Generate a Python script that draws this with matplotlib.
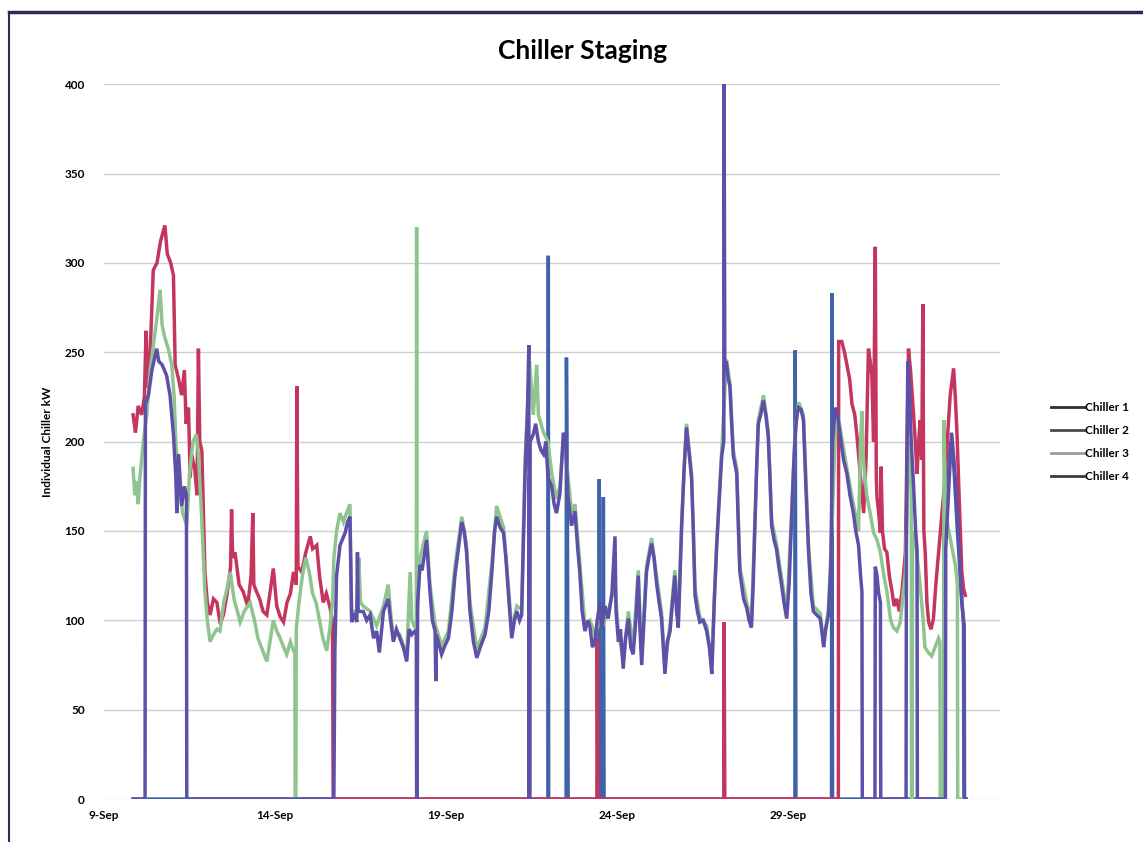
import pandas as pd
import matplotlib
matplotlib.use("Agg")
import matplotlib.pyplot as plt
from matplotlib.lines import Line2D

plt.rcParams['font.family'] = ['Lato', 'DejaVu Sans']

START = '2011-09-09'

# days after START, kW
c1_day = [0.85, 12.42, 12.43, 12.44, 12.98, 12.99, 13.00, 13.51, 13.52, 13.55, 13.57,
          14.47, 14.48, 14.50, 14.59, 14.60, 14.62, 20.20, 20.21, 20.23, 21.27, 21.28,
          21.30, 24.55, 24.56, 24.65, 24.75, 24.85, 24.95, 25.05, 25.13, 25.14, 25.20]
c1_kw = [0, 0, 180, 0, 0, 304, 0, 0, 247, 150, 0,
         0, 179, 0, 0, 169, 0, 0, 251, 0, 0, 283,
         0, 0, 150, 170, 200, 185, 150, 120, 97, 0, 0]

c2_day = [0.85, 0.92, 1.00, 1.10, 1.18, 1.23, 1.28, 1.35, 1.44, 1.55, 1.65, 1.78, 1.85,
          1.95, 2.03, 2.08, 2.18, 2.27, 2.35, 2.40, 2.47, 2.52, 2.56, 2.65, 2.72, 2.76,
          2.80, 2.86, 2.95, 3.02, 3.10, 3.20, 3.30, 3.40, 3.49, 3.60, 3.70, 3.73, 3.76,
          3.83, 3.95, 4.07, 4.20, 4.30, 4.35, 4.38, 4.46, 4.55, 4.65, 4.76, 4.85, 4.95,
          5.05, 5.15, 5.25, 5.35, 5.45, 5.54, 5.62, 5.64, 5.67, 5.78, 5.90, 6.03, 6.10,
          6.22, 6.30, 6.41, 6.50, 6.61, 6.68, 6.70, 14.41, 14.42, 14.44, 18.12, 18.13,
          18.15, 21.47, 21.48, 21.57, 21.65, 21.72, 21.80, 21.87, 21.95, 22.01, 22.11,
          22.21, 22.28, 22.35, 22.40, 22.45, 22.50, 22.55, 22.58, 22.60, 22.65, 22.70,
          22.72, 22.76, 22.82, 22.89, 22.96, 23.04, 23.10, 23.18, 23.25, 23.33, 23.43,
          23.48, 23.52, 23.58, 23.67, 23.72, 23.77, 23.82, 23.86, 23.91, 23.94, 23.97,
          24.01, 24.06, 24.11, 24.18, 24.25, 24.32, 24.40, 24.50, 24.60, 24.67, 24.74,
          24.80, 24.84, 24.89, 24.94, 25.00, 25.08, 25.13, 25.18]
c2_kw = [215, 205, 220, 215, 225, 262, 230, 250, 296, 300, 312, 321, 305,
         300, 293, 243, 235, 226, 240, 210, 219, 180, 193, 185, 170, 252,
         200, 195, 127, 110, 103, 112, 110, 98, 103, 115, 130, 162, 135,
         138, 120, 116, 108, 125, 160, 120, 116, 112, 105, 103, 115, 129,
         108, 102, 99, 110, 115, 127, 120, 231, 130, 127, 138, 147, 140,
         142, 125, 110, 115, 107, 100, 0, 0, 90, 0, 0, 99,
         0, 0, 256, 256, 250, 243, 235, 221, 215, 204, 182,
         160, 190, 252, 245, 237, 200, 309, 180, 169, 160, 149,
         186, 150, 140, 138, 125, 116, 108, 112, 105, 116, 138,
         200, 252, 240, 215, 200, 182, 200, 212, 190, 277, 150,
         138, 110, 99, 95, 101, 120, 138, 160, 182, 205, 226,
         235, 241, 225, 204, 170, 127, 118, 114]

c3_day = [0.85, 0.90, 0.95, 1.00, 1.05, 1.15, 1.25, 1.35, 1.45, 1.55, 1.64, 1.70, 1.78,
          1.88, 1.98, 2.05, 2.10, 2.20, 2.30, 2.42, 2.50, 2.60, 2.70, 2.76, 2.85, 2.95,
          3.02, 3.10, 3.20, 3.30, 3.39, 3.50, 3.60, 3.69, 3.80, 3.90, 3.98, 4.10, 4.27,
          4.40, 4.50, 4.60, 4.76, 4.85, 4.95, 5.05, 5.15, 5.25, 5.34, 5.45, 5.54, 5.58,
          5.59, 5.61, 5.62, 5.70, 5.80, 5.90, 6.00, 6.10, 6.20, 6.30, 6.40, 6.51, 6.60,
          6.68, 6.72, 6.80, 6.90, 7.00, 7.05, 7.19, 7.24, 7.39, 7.45, 7.50, 7.58, 7.78,
          7.97, 8.17, 8.31, 8.40, 8.46, 8.65, 8.85, 8.95, 9.00, 9.09, 9.13, 9.14, 9.15,
          9.24, 9.43, 9.53, 9.68, 9.87, 10.07, 10.26, 10.46, 10.60, 10.70, 10.90, 11.14,
          11.34, 11.48, 11.58, 11.68, 11.82, 11.92, 12.07, 12.21, 12.31, 12.44, 12.55,
          12.65, 12.70, 12.85, 12.98, 13.09, 13.23, 13.33, 13.43, 13.52, 13.67, 13.77,
          13.91, 14.06, 14.21, 14.35, 14.50, 14.60, 14.74, 14.94, 15.04, 15.18, 15.33,
          15.47, 15.62, 15.72, 15.86, 16.01, 16.16, 16.30, 16.40, 16.55, 16.69, 16.79,
          16.89, 17.03, 17.18, 17.28, 17.42, 17.62, 17.77, 17.91, 18.06, 18.20, 18.30,
          18.40, 18.50, 18.59, 18.79, 18.93, 19.03, 19.13, 19.28, 19.42, 19.52, 19.66,
          19.81, 19.96, 20.11, 20.21, 20.31, 20.45, 20.60, 20.74, 20.94, 21.04, 21.18,
          21.30, 21.40, 21.50, 21.72, 21.91, 22.06, 22.12, 22.16, 22.20, 22.30, 22.40,
          22.50, 22.60, 22.70, 22.80, 22.89, 23.00, 23.08, 23.18, 23.28, 23.43, 23.50,
          23.55, 23.60, 23.61, 23.63, 23.64, 23.75, 23.86, 23.95, 24.00, 24.10, 24.20,
          24.30, 24.40, 24.44, 24.45, 24.55, 24.56, 24.60, 24.70, 24.80, 24.90, 24.95,
          24.96, 25.20]
c3_kw = [185, 170, 178, 165, 180, 200, 215, 240, 255, 270, 285, 265, 258,
         252, 243, 225, 200, 175, 160, 153, 182, 200, 204, 193, 160, 116,
         100, 88, 92, 95, 94, 110, 118, 127, 112, 105, 99, 105, 110,
         100, 90, 85, 77, 88, 100, 94, 90, 85, 81, 88, 83, 83,
         0, 0, 95, 110, 125, 135, 127, 115, 110, 100, 90, 83, 95,
         110, 135, 150, 160, 155, 158, 165, 105, 105, 135, 110, 108, 105,
         97, 108, 120, 100, 92, 92, 80, 127, 100, 96, 96, 320, 100,
         135, 150, 120, 98, 86, 94, 130, 158, 142, 110, 84, 96,
         132, 164, 158, 152, 120, 95, 108, 106, 190, 245, 215,
         243, 215, 205, 200, 182, 168, 175, 200, 190, 160, 165,
         132, 98, 100, 92, 100, 98, 105, 120, 93, 78, 105,
         85, 128, 80, 130, 146, 124, 105, 75, 98, 128, 100,
         156, 210, 182, 118, 102, 97, 75, 143, 195, 246, 233,
         195, 185, 130, 110, 100, 156, 212, 226, 206, 156, 143,
         124, 104, 163, 207, 222, 215, 141, 108, 104, 88, 106,
         160, 215, 210, 185, 165, 150, 200, 217, 190, 170, 160,
         149, 145, 138, 125, 116, 100, 96, 94, 99, 127, 180,
         200, 190, 0, 0, 150, 140, 120, 100, 85, 82, 80,
         85, 90, 88, 0, 0, 212, 160, 150, 140, 130, 120,
         0, 0]

c4_day = [0.85, 1.20, 1.21, 1.30, 1.40, 1.54, 1.60, 1.70, 1.83, 1.93, 2.03, 2.10, 2.13,
          2.18, 2.27, 2.35, 2.41, 2.42, 6.72, 6.75, 6.80, 6.90, 7.05, 7.12, 7.19, 7.24,
          7.32, 7.39, 7.41, 7.43, 7.58, 7.68, 7.78, 7.88, 7.97, 8.05, 8.17, 8.31, 8.38,
          8.46, 8.55, 8.65, 8.75, 8.85, 8.92, 9.00, 9.09, 9.13, 9.14, 9.15, 9.17, 9.24,
          9.30, 9.43, 9.53, 9.60, 9.68, 9.70, 9.72, 9.87, 9.97, 10.07, 10.17, 10.26,
          10.36, 10.46, 10.53, 10.60, 10.70, 10.80, 10.90, 11.00, 11.14, 11.25, 11.34,
          11.42, 11.48, 11.58, 11.68, 11.75, 11.82, 11.92, 12.00, 12.07, 12.15, 12.21,
          12.31, 12.38, 12.42, 12.43, 12.45, 12.46, 12.55, 12.62, 12.70, 12.78, 12.85,
          12.92, 12.98, 13.09, 13.16, 13.23, 13.33, 13.43, 13.50, 13.56, 13.67, 13.77,
          13.85, 13.91, 13.98, 14.06, 14.15, 14.21, 14.28, 14.35, 14.42, 14.50, 14.55,
          14.65, 14.74, 14.85, 14.94, 14.97, 15.04, 15.10, 15.18, 15.25, 15.33, 15.40,
          15.47, 15.55, 15.62, 15.67, 15.72, 15.80, 15.86, 15.93, 16.01, 16.08, 16.16,
          16.23, 16.30, 16.35, 16.40, 16.47, 16.55, 16.62, 16.69, 16.74, 16.79, 16.84,
          16.89, 16.96, 17.03, 17.10, 17.18, 17.23, 17.28, 17.35, 17.42, 17.52, 17.62,
          17.70, 17.77, 17.84, 17.91, 17.98, 18.06, 18.12, 18.13, 18.15, 18.20, 18.25,
          18.30, 18.35, 18.40, 18.50, 18.55, 18.59, 18.70, 18.79, 18.86, 18.93, 18.98,
          19.03, 19.08, 19.13, 19.20, 19.28, 19.35, 19.42, 19.47, 19.52, 19.59, 19.66,
          19.73, 19.81, 19.88, 19.96, 20.03, 20.11, 20.16, 20.21, 20.26, 20.31, 20.38,
          20.45, 20.52, 20.60, 20.67, 20.74, 20.84, 20.94, 21.00, 21.04, 21.10, 21.18,
          21.25, 21.30, 21.38, 21.45, 21.52, 21.62, 21.72, 21.81, 21.91, 21.98, 22.06,
          22.12, 22.16, 22.17, 22.54, 22.55, 22.60, 22.65, 22.70, 22.71, 23.45, 23.46,
          23.50, 23.55, 23.60, 23.67, 23.73, 23.77, 23.78, 24.60, 24.61, 24.70, 24.78,
          24.85, 24.92, 25.00, 25.08, 25.15, 25.16, 25.20]
c4_kw = [0, 0, 221, 226, 240, 252, 245, 243, 237, 226, 204, 180, 160,
         193, 164, 175, 170, 0, 0, 83, 125, 142, 149, 155, 158, 99,
         104, 99, 138, 105, 105, 100, 103, 90, 94, 82, 105, 112, 100,
         88, 95, 90, 85, 77, 95, 92, 94, 94, 0, 0, 110, 131,
         128, 145, 116, 100, 94, 66, 92, 81, 86, 90, 105, 125,
         140, 155, 150, 138, 105, 88, 79, 85, 92, 105, 127,
         150, 158, 152, 149, 135, 116, 90, 100, 105, 100, 103,
         182, 215, 254, 0, 0, 200, 204, 210, 200, 195, 193,
         200, 180, 175, 165, 160, 171, 205, 200, 170, 153, 161,
         140, 127, 105, 94, 100, 96, 85, 88, 100, 110, 95,
         108, 101, 115, 147, 105, 88, 95, 73, 90, 101, 85,
         81, 100, 125, 95, 75, 105, 127, 135, 143, 135, 120,
         110, 101, 85, 70, 88, 94, 110, 125, 105, 96, 125,
         153, 185, 208, 195, 179, 150, 114, 105, 99, 100, 94,
         85, 70, 110, 140, 165, 192, 200, 400, 244, 244, 235,
         231, 210, 192, 182, 150, 127, 112, 107, 100, 96, 120,
         153, 185, 210, 215, 223, 215, 203, 180, 153, 145, 140,
         130, 120, 110, 101, 120, 160, 185, 204, 215, 219, 218,
         212, 175, 138, 115, 105, 103, 101, 92, 85, 95, 103,
         130, 200, 219, 215, 204, 190, 182, 170, 160, 150, 142,
         125, 116, 0, 0, 130, 125, 115, 110, 0, 0, 140,
         245, 230, 200, 175, 150, 140, 0, 0, 140, 175, 205,
         190, 170, 140, 110, 97, 0, 0]

series_names = ['Chiller 1', 'Chiller 2', 'Chiller 3', 'Chiller 4']
series_colors = ['#3f62a8', '#c4365e', '#8ec48e', '#5d50a8']
legend_colors = ['#2e2e2e', '#4a4a4a', '#9a9a9a', '#3a3a3a']
tick_labels = ['9-Sep', '14-Sep', '19-Sep', '24-Sep', '29-Sep']

start = pd.Timestamp(START)
days = [c1_day, c2_day, c3_day, c4_day]
kws = [c1_kw, c2_kw, c3_kw, c4_kw]

fig = plt.figure(figsize=(11.43, 8.42), dpi=100)
ax = fig.add_axes([0.091, 0.051, 0.784, 0.849])

for d, v, col, name in zip(days, kws, series_colors, series_names):
    t = start + pd.to_timedelta(d, unit='D')
    ax.plot(t, v, color=col, lw=2.5, label=name, solid_joinstyle='miter')

ax.set_ylim(0, 400)
ax.set_yticks(range(0, 401, 50))
ax.set_xlim(start, start + pd.Timedelta(days=26.2))
tick_dates = [pd.to_datetime(s + '-' + START[:4], format='%d-%b-%Y') for s in tick_labels]
ax.set_xticks(tick_dates)
ax.set_xticklabels(tick_labels)

ax.grid(axis='y', color='#cfcfcf', lw=1)
ax.set_axisbelow(True)
for s in ax.spines.values():
    s.set_visible(False)
ax.tick_params(length=0, labelsize=8.5)
for lab in ax.get_xticklabels() + ax.get_yticklabels():
    lab.set_fontweight('bold')
ax.tick_params(axis='y', pad=14)
ax.tick_params(axis='x', pad=8)

ax.set_ylabel('Individual Chiller kW', fontsize=8.5, fontweight='bold', labelpad=8)
fig.text(0.51, 0.940, 'Chiller Staging', ha='center', va='center',
         fontsize=19, fontweight='bold')

handles = [Line2D([], [], color=c, lw=2) for c in legend_colors]
fig.legend(handles, series_names, loc='center left', bbox_to_anchor=(0.910, 0.475),
           frameon=False, handlelength=2.8, handletextpad=0.1,
           labelspacing=1.0, prop={'weight': 'bold', 'size': 8.5})

# chart frame (top and left edges)
fig.add_artist(Line2D([0.008, 1.0], [0.986, 0.986], color='#2c2c50', lw=2.5,
                      transform=fig.transFigure))
fig.add_artist(Line2D([0.008, 0.008], [0.0, 0.986], color='#2c2c50', lw=1.5,
                      transform=fig.transFigure))

fig.savefig('out.png', dpi=100)
